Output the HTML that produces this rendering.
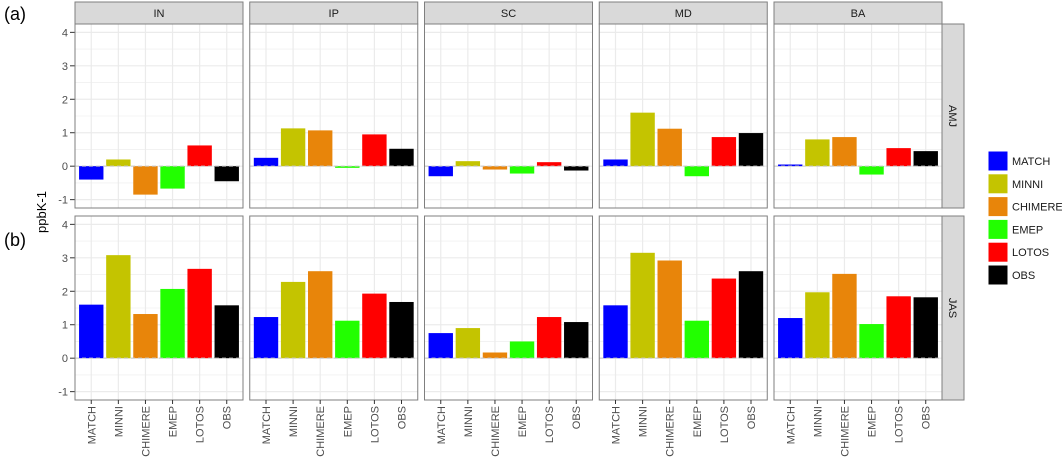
<!DOCTYPE html>
<html><head><meta charset="utf-8"><style>body{margin:0;background:#fff}svg{display:block;font-family:"Liberation Sans",sans-serif}</style></head>
<body>
<svg id="c" width="1062" height="460"></svg>
<script>
const regions=["IN","IP","SC","MD","BA"];
const periods=["AMJ","JAS"];
const models=["MATCH","MINNI","CHIMERE","EMEP","LOTOS","OBS"];
const colors=["#0000ff","#c4c400","#e8850a","#22ff00","#ff0000","#000000"];
const yTicks=[-1,0,1,2,3,4];
const amjIN=[-0.4,0.2,-0.85,-0.67,0.62,-0.45];
const amjIP=[0.25,1.13,1.07,-0.05,0.95,0.52];
const amjSC=[-0.3,0.15,-0.1,-0.22,0.12,-0.13];
const amjMD=[0.2,1.6,1.12,-0.3,0.87,0.99];
const amjBA=[0.05,0.8,0.87,-0.25,0.54,0.45];
const jasIN=[1.6,3.08,1.32,2.07,2.67,1.58];
const jasIP=[1.23,2.28,2.6,1.12,1.93,1.68];
const jasSC=[0.75,0.9,0.17,0.5,1.23,1.08];
const jasMD=[1.58,3.15,2.92,1.12,2.38,2.6];
const jasBA=[1.2,1.97,2.52,1.02,1.85,1.82];
const vals=[[amjIN,amjIP,amjSC,amjMD,amjBA],[jasIN,jasIP,jasSC,jasMD,jasBA]];
const svg=document.getElementById('c');const NS="http://www.w3.org/2000/svg";
function mk(t,a,p){const e=document.createElementNS(NS,t);for(const k in a)e.setAttribute(k,a[k]);(p||svg).appendChild(e);return e;}
const panelX0=75,panelW=168,step=174.75;
const rowTop=[24,216],rowH=184;
const yMin=-1.25,yMax=4.25;
function yS(r,v){return rowTop[r]+(yMax-v)/(yMax-yMin)*rowH;}
function xS(c,i){return panelX0+c*step+(i+1-0.4)/6.2*panelW;}
const bw=0.9/6.2*panelW;
// labels
let t=mk('text',{x:4,y:20,'font-size':18,fill:'#000'});t.textContent='(a)';


t=mk('text',{x:4,y:246,'font-size':18,fill:'#000'});t.textContent='(b)';


t=mk('text',{x:46,y:212,'font-size':13,fill:'#000','text-anchor':'middle',transform:'rotate(-90 46 212)'});t.textContent='ppbK-1';


for(let c=0;c<5;c++){
  const px=panelX0+c*step;
  const s=mk('rect',{x:px,y:2,width:panelW,height:22,fill:'#d9d9d9',stroke:'#7f7f7f','stroke-width':1});
  
  
  t=mk('text',{x:px+panelW/2,y:17,'font-size':11,fill:'#1a1a1a','text-anchor':'middle'});t.textContent=regions[c];
  
  
}
for(let r=0;r<2;r++){
  const sx=panelX0+4*step+panelW;
  const s=mk('rect',{x:sx,y:rowTop[r],width:22,height:rowH,fill:'#d9d9d9',stroke:'#7f7f7f'});
  
  
  const cy=rowTop[r]+rowH/2;
  t=mk('text',{x:sx+11,y:cy,'font-size':11,fill:'#1a1a1a','text-anchor':'middle',transform:`rotate(90 ${sx+11} ${cy})`,dy:4});t.textContent=periods[r];
  
  
  for(const v of yTicks){
    const y=yS(r,v);
    mk('line',{x1:70,x2:75,y1:y,y2:y,stroke:'#333'});
    t=mk('text',{x:68,y:y+4,'font-size':11,fill:'#4d4d4d','text-anchor':'end'});t.textContent=v;
    
    
  }
  for(let c=0;c<5;c++){
    const px=panelX0+c*step;
    const g=mk('g',{});
    
    
    mk('rect',{x:px,y:rowTop[r],width:panelW,height:rowH,fill:'#fff'},g);
    for(let v=-1;v<4.5;v+=0.5){const y=yS(r,v);mk('line',{x1:px,x2:px+panelW,y1:y,y2:y,stroke:'#ebebeb','stroke-width':Number.isInteger(v)?1.2:0.6},g);}
    for(let i=0;i<6;i++){const x=xS(c,i);mk('line',{x1:x,x2:x,y1:rowTop[r],y2:rowTop[r]+rowH,stroke:'#ebebeb','stroke-width':1.2},g);}
    const d=vals[r][c];
    for(let i=0;i<6;i++){
      const y0=yS(r,0),y1=yS(r,d[i]);
      const b=mk('rect',{x:xS(c,i)-bw/2,y:Math.min(y0,y1),width:bw,height:Math.abs(y1-y0),fill:colors[i]},g);
      
      
    }
    mk('line',{x1:px,x2:px+panelW,y1:yS(r,0),y2:yS(r,0),stroke:'#c8c8c8','stroke-dasharray':'4 3','stroke-width':1},g);
    mk('rect',{x:px,y:rowTop[r],width:panelW,height:rowH,fill:'none',stroke:'#7f7f7f'},g);
  }
}
for(let c=0;c<5;c++)for(let i=0;i<6;i++){
  const x=xS(c,i),y=rowTop[1]+rowH;
  mk('line',{x1:x,x2:x,y1:y,y2:y+4,stroke:'#333'});
  t=mk('text',{x:x+4,y:y+6,'font-size':11,fill:'#4d4d4d','text-anchor':'end',transform:`rotate(-90 ${x+4} ${y+6})`});t.textContent=models[i];
  
  
}
const lg=mk('g',{});


for(let i=0;i<6;i++){
  const y=151+i*22.8;
  const k=mk('rect',{x:988,y:y,width:20,height:20,fill:colors[i],stroke:'#fff'},lg);
  
  
  t=mk('text',{x:1012,y:y+14,'font-size':11,fill:'#1a1a1a'},lg);t.textContent=models[i];
  
  
}
</script>
</body></html>
